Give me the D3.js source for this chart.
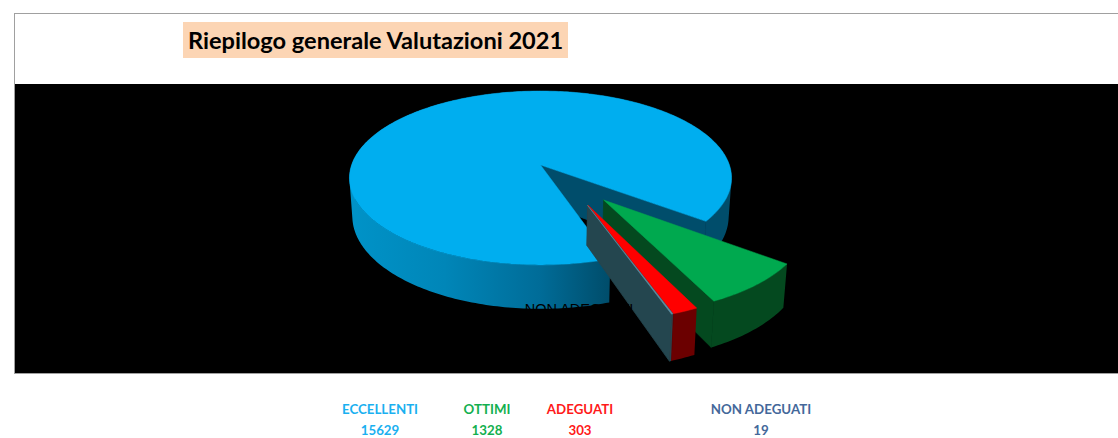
<!DOCTYPE html>
<html>
<head>
<meta charset="utf-8">
<script src="https://cdn.jsdelivr.net/npm/d3@7"></script>
<style>
  html, body { margin: 0; padding: 0; background: #fff; }
  svg { display: block; }
  text { font-family: Lato, "Open Sans", sans-serif; font-weight: 700; }
</style>
</head>
<body>
<svg id="chart" width="1118" height="438"></svg>
<script>
const categories = ["ECCELLENTI", "OTTIMI", "ADEGUATI", "NON ADEGUATI"];
const values = [15629, 1328, 303, 19];
const topColors = ["#00aeef", "#00a94f", "#ff0000", "#5b8fa3"];
const wallColors = ["#004d6b", "#04491f", "#6b0000", "#24464f"];
const labelColors = ["#1ab0f0", "#13b04f", "#ff1a1a", "#44689a"];
const labelCenters = [380, 487, 580, 761];

const title = "Riepilogo generale Valutazioni 2021";

const svg = d3.select("#chart");
const rad = Math.PI / 180;

// fake 3d: unit circle in a tilted plane, k is the perspective strength
const cx = 540.5, cy = 165;
const rx = 188.9, ry = 85, depth = 37.4, k = 0.149, squeeze = 0.015;
function project(u, v, z) {
  const w = 1 - k * v;
  const x = rx * u / w * (1 - squeeze * z);
  return [cx + x, cy + (ry * v + depth * z) / w];
}

// d3 angle 0 is 12 o'clock, the first slice starts low on the right
const pie = d3.pie().sort(null).startAngle(161.5 * rad).endAngle((161.5 + 360) * rad);
const slices = pie(values);

// how far each slice is pulled out, and the direction tweak seen in the picture
const explode = [0, 0.5, 0.5, 0.5];
const explodeTurn = [0, 0, -6, -9];

function arcPoints(s, i, z) {
  const mid = (s.startAngle + s.endAngle) / 2 + explodeTurn[i] * rad;
  const ox = explode[i] * Math.sin(mid), oy = -explode[i] * Math.cos(mid);
  const n = Math.max(2, Math.ceil((s.endAngle - s.startAngle) / rad));
  const pts = d3.range(n + 1).map(j => {
    const a = s.startAngle + (s.endAngle - s.startAngle) * j / n;
    return project(ox + Math.sin(a), oy - Math.cos(a), z);
  });
  return { pts, apex: project(ox, oy, z) };
}

const line = d3.line();

// all quads in one path, same winding, so no seams show between them
function wallPath(top, bottom) {
  return d3.pairs(d3.range(top.pts.length)).map(d => {
    const quad = [top.pts[d[0]], top.pts[d[1]], bottom.pts[d[1]], bottom.pts[d[0]]];
    if (d3.polygonArea(quad) < 0) quad.reverse();
    return line(quad) + "Z";
  }).join("");
}

svg.append("rect").attr("x", 14.5).attr("y", 13.5).attr("width", 1104).attr("height", 360)
   .attr("fill", "#fff").attr("stroke", "#a0a0a0");
svg.append("rect").attr("x", 15).attr("y", 84).attr("width", 1103).attr("height", 289).attr("fill", "#000");

svg.append("rect").attr("x", 183).attr("y", 22).attr("width", 385).attr("height", 36).attr("fill", "#fcd5b4");
svg.append("text").attr("x", 188).attr("y", 49).attr("font-size", 23.6).attr("fill", "#000").text(title);

// wall shading of the big slice, lighter on the left
const defs = svg.append("defs");
const grad = defs.append("linearGradient").attr("id", "wall0")
  .attr("gradientUnits", "userSpaceOnUse")
  .attr("x1", 349).attr("x2", 731).attr("y1", 0).attr("y2", 0);
[[0, "#0093c8"], [0.25, "#0086b8"], [0.5, "#006c98"], [0.68, "#004d6b"], [1, "#004d6b"]]
  .forEach(d => grad.append("stop").attr("offset", d[0]).attr("stop-color", d[1]));

slices.forEach((s, i) => {
  const top = arcPoints(s, i, 0), bottom = arcPoints(s, i, 1);
  const g = svg.append("g").attr("class", "slice slice-" + i);
  // outer wall
  g.append("path")
    .attr("d", wallPath(top, bottom))
    .attr("fill", i === 0 ? "url(#wall0)" : wallColors[i]);
  // cut wall on the closing edge of the slice
  const last = top.pts.length - 1;
  g.append("path")
    .attr("d", line([top.apex, top.pts[last], bottom.pts[last], bottom.apex]) + "Z")
    .attr("fill", wallColors[i])
    .attr("stroke", wallColors[i]).attr("stroke-width", 0.8);
  // top face
  g.append("path")
    .attr("d", line([top.apex].concat(top.pts)) + "Z")
    .attr("fill", topColors[i])
    .attr("stroke", topColors[i]).attr("stroke-width", 0.5);
});

// the data label sits half hidden, black on the black plot
svg.append("text").attr("x", 579).attr("y", 313.5).attr("text-anchor", "middle")
   .attr("font-size", 14.5).style("font-family", "'Liberation Sans'").style("font-weight", 400)
   .attr("fill", "#000").text(categories[3]);

const legend = svg.selectAll("g.legend").data(categories).join("g").attr("class", "legend")
  .attr("transform", (d, i) => `translate(${labelCenters[i]},0)`)
  .attr("fill", (d, i) => labelColors[i])
  .attr("text-anchor", "middle")
  .attr("font-size", 13.3);
legend.append("text").attr("y", 414).text(d => d);
legend.append("text").attr("y", 435).text((d, i) => values[i]);
</script>
</body>
</html>
